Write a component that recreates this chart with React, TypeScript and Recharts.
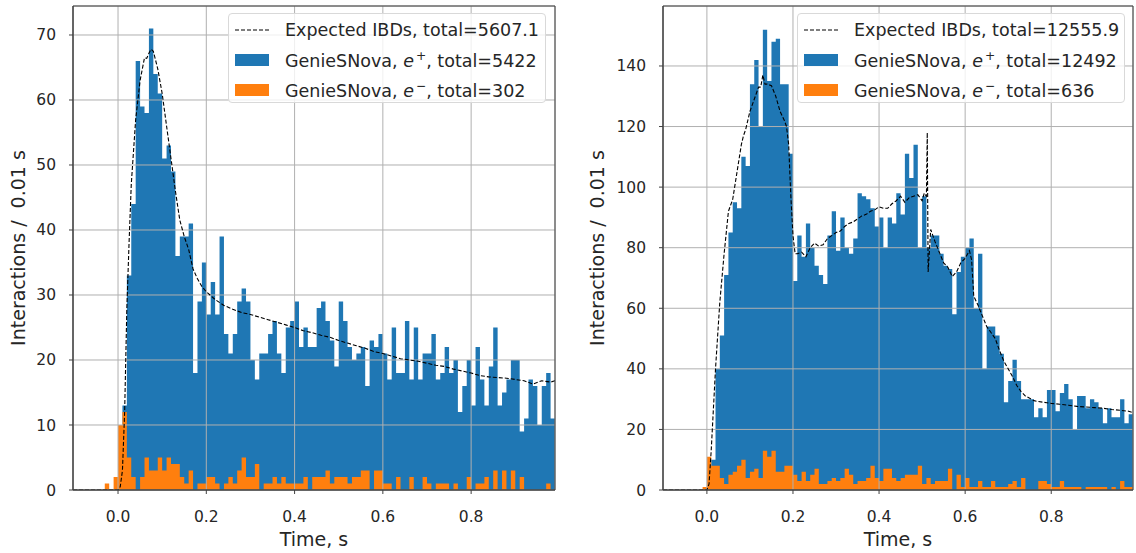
import React from "react";
import {
  ComposedChart,
  Area,
  Line,
  XAxis,
  YAxis,
  CartesianGrid,
  Legend,
  ReferenceArea,
} from "recharts";

// histogram bins: 0.01 s wide, first bin starts at -0.10, last one ends at 0.99
const BIN_START = -0.1;
const BIN_WIDTH = 0.01;
const BIN_END = 0.99;
const X_MIN = -0.102;
const X_MAX = 0.99;

const xTicks = [0, 0.2, 0.4, 0.6, 0.8];
const leftYTicks = [0, 10, 20, 30, 40, 50, 60, 70];
const rightYTicks = [0, 20, 40, 60, 80, 100, 120, 140];

// left panel, counts per bin (-0.10 ... 0.98)
const leftPositrons = [
  0, 0, 0, 0, 0, 0, 0, 0, 0, 0,
  1, 13, 33, 44, 66, 59, 58, 71, 64, 61,
  51, 53, 49, 36, 39, 39, 41, 18, 29, 35,
  27, 32, 27, 39, 24, 21, 24, 29, 31, 29,
  20, 17, 21, 21, 24, 26, 21, 18, 25, 26,
  29, 22, 25, 22, 22, 28, 29, 26, 23, 19,
  29, 26, 22, 20, 21, 22, 16, 23, 22, 24,
  21, 17, 25, 18, 18, 26, 17, 25, 17, 21,
  21, 24, 17, 18, 22, 18, 20, 12, 16, 20,
  13, 22, 17, 13, 19, 25, 13, 15, 17, 20,
  20, 9, 11, 17, 16, 10, 16, 18, 11,
];
const leftElectrons = [
  0, 0, 0, 0, 0, 0, 0, 1, 0, 2,
  10, 12, 5, 2, 0, 2, 5, 3, 3, 5,
  3, 5, 4, 4, 2, 1, 3, 0, 1, 1,
  2, 2, 1, 0, 1, 2, 1, 3, 5, 2,
  2, 4, 0, 1, 1, 2, 1, 2, 1, 1,
  1, 1, 2, 0, 2, 2, 2, 3, 1, 2,
  2, 2, 1, 2, 2, 3, 3, 0, 3, 3,
  1, 1, 0, 2, 0, 0, 2, 0, 0, 2,
  1, 0, 1, 1, 1, 0, 1, 0, 0, 2,
  0, 1, 1, 2, 0, 3, 0, 3, 0, 3,
  0, 2, 0, 0, 0, 0, 0, 1, 0,
];
const leftExpTime = [
  -0.102, 0, 0.005, 0.01, 0.015, 0.02, 0.025, 0.03,
  0.04, 0.05, 0.06, 0.065, 0.07, 0.075, 0.08, 0.09,
  0.1, 0.11, 0.12, 0.13, 0.14, 0.15, 0.16, 0.17, 0.18, 0.19, 0.2,
  0.22, 0.24, 0.26, 0.28, 0.3, 0.32, 0.34, 0.36, 0.38, 0.4,
  0.42, 0.44, 0.46, 0.48, 0.5, 0.52, 0.54, 0.56, 0.58, 0.6,
  0.62, 0.64, 0.66, 0.68, 0.7, 0.72, 0.74, 0.76, 0.78, 0.8,
  0.82, 0.84, 0.86, 0.88, 0.9, 0.92, 0.94, 0.96, 0.98, 0.99,
];
const leftExpValue = [
  0, 0, 0.5, 3, 12, 28, 38, 47,
  57, 63, 66.5, 66.4, 67.2, 67.8, 67.5, 64.8,
  61, 56, 51, 46, 41.5, 39, 37, 34, 32.5, 31.3, 30.5,
  29.3, 28.4, 27.8, 27.3, 27, 26.6, 26.2, 25.8, 25.4, 25,
  24.5, 24.2, 23.8, 23.5, 23, 22.6, 22.2, 21.8, 21.3, 21,
  20.6, 20.2, 20, 19.8, 19.5, 19.2, 19, 18.6, 18.3, 18,
  17.6, 17.4, 17.3, 17.2, 17, 16.8, 16.3, 16.8, 16.6, 16.8,
];

// right panel
const rightPositrons = [
  0, 0, 0, 0, 0, 0, 0, 0, 0, 0,
  5, 10, 40, 51, 71, 85, 95, 93, 110, 107,
  134, 142, 120, 152, 135, 148, 149, 134, 134, 111,
  69, 84, 77, 88, 80, 74, 71, 68, 84, 92,
  79, 90, 80, 78, 83, 98, 97, 96, 93, 87,
  90, 80, 90, 88, 98, 91, 111, 103, 114, 80,
  97, 80, 84, 84, 78, 74, 73, 58, 72, 77,
  80, 83, 60, 78, 40, 54, 54, 51, 45, 29,
  36, 43, 36, 30, 30, 30, 24, 27, 24, 33,
  33, 26, 32, 35, 30, 20, 31, 31, 27, 30,
  29, 27, 22, 27, 24, 24, 30, 22, 25,
];
const rightElectrons = [
  0, 0, 0, 0, 0, 0, 0, 0, 0, 1,
  11, 8, 8, 4, 2, 5, 6, 8, 10, 4,
  6, 7, 4, 13, 11, 13, 6, 6, 8, 8,
  5, 3, 6, 3, 5, 7, 2, 2, 3, 4,
  3, 4, 7, 5, 2, 3, 3, 4, 8, 4,
  3, 7, 7, 4, 3, 4, 5, 5, 5, 8,
  2, 4, 2, 3, 3, 3, 7, 0, 5, 1,
  4, 1, 1, 3, 1, 1, 3, 1, 1, 1,
  2, 3, 1, 4, 0, 0, 0, 3, 3, 2,
  1, 1, 3, 1, 1, 1, 1, 0, 1, 1,
  1, 1, 1, 0, 1, 0, 3, 1, 1,
];
const rightExpTime = [
  -0.102, 0, 0.005, 0.01, 0.02, 0.03, 0.04, 0.05, 0.055, 0.06,
  0.07, 0.08, 0.085, 0.09, 0.1, 0.11, 0.12, 0.125, 0.13, 0.135,
  0.14, 0.15, 0.16, 0.17, 0.18, 0.185, 0.19, 0.195, 0.2, 0.205,
  0.21, 0.22, 0.23, 0.24, 0.25, 0.26, 0.27, 0.28, 0.29, 0.3,
  0.31, 0.32, 0.33, 0.34, 0.35, 0.36, 0.37, 0.38, 0.39, 0.4,
  0.41, 0.42, 0.43, 0.44, 0.45, 0.46, 0.47, 0.48, 0.49, 0.5,
  0.505, 0.51, 0.512, 0.514, 0.52, 0.525, 0.53, 0.54, 0.55, 0.56,
  0.57, 0.58, 0.59, 0.6, 0.61, 0.615, 0.62, 0.63, 0.64, 0.65,
  0.66, 0.67, 0.68, 0.69, 0.7, 0.71, 0.72, 0.73, 0.74, 0.75,
  0.76, 0.77, 0.78, 0.79, 0.8, 0.82, 0.84, 0.86, 0.88, 0.9,
  0.92, 0.94, 0.96, 0.98, 0.99,
];
const rightExpValue = [
  0, 0, 2, 13, 40, 62, 78, 92, 94, 96,
  105, 114, 117, 119, 125, 129, 133, 133, 137, 134,
  134, 133.5, 130, 125, 122, 120, 114, 97, 84, 78,
  78, 78.5, 77, 80, 81.5, 80.5, 81, 83, 84, 85,
  85.5, 87, 88, 88.5, 89.5, 90.5, 91, 92, 92.5, 93.5,
  93, 93, 94.5, 95.5, 97, 95, 96.5, 97, 97.5, 95.5,
  98, 97, 118, 72, 86, 84, 82, 78.5, 75, 73.5,
  70.5, 72, 75, 76.5, 79, 76, 64, 61, 57.5, 54,
  52, 50, 46, 42.5, 40, 37.5, 34.5, 32.5, 31, 30.3,
  29.5, 29.2, 29, 28.8, 28.6, 28.3, 28, 27.6, 27.4, 27.2,
  27, 26.6, 26.3, 26, 25.5,
];

const BLUE = "#1f77b4";
const ORANGE = "#ff7f0e";
const FONT = "DejaVu Sans";
const TEXT = "#262626";
const SPINE = "#404040";

function histRows(counts: number[]) {
  const rows = counts.map((n, i) => ({
    t: Math.round((BIN_START + i * BIN_WIDTH) * 1000) / 1000,
    n,
  }));
  // closing edge so the last step is drawn full width
  rows.push({ t: BIN_END, n: counts[counts.length - 1] });
  return rows;
}

type LegendRow = { kind: "line" | "patch"; color: string; label: React.ReactNode };

function LegendBox(props: { rows: LegendRow[]; width: number }) {
  return (
    <div
      style={{
        boxSizing: "border-box",
        width: props.width,
        height: 90,
        background: "rgba(255,255,255,0.8)",
        border: "1px solid #d9d9d9",
        borderRadius: 4,
        position: "relative",
        fontFamily: FONT,
        fontSize: 17.5,
        color: TEXT,
      }}
    >
      {props.rows.map((r, i) => (
        <div
          key={i}
          style={{
            position: "absolute",
            left: 6,
            top: 0.5 + i * 30,
            height: 30,
            display: "flex",
            alignItems: "center",
            whiteSpace: "nowrap",
          }}
        >
          {r.kind === "line" ? (
            <svg width={34} height={12}>
              <line x1={0} y1={6} x2={34} y2={6} stroke="#000" strokeWidth={1.1} strokeDasharray="4 2" />
            </svg>
          ) : (
            <div style={{ width: 34, height: 12, background: r.color }} />
          )}
          <span style={{ marginLeft: 16 }}>{r.label}</span>
        </div>
      ))}
    </div>
  );
}

function legendRows(expTotal: string, posTotal: number, eleTotal: number): LegendRow[] {
  return [
    { kind: "line", color: "#000", label: `Expected IBDs, total=${expTotal}` },
    {
      kind: "patch",
      color: BLUE,
      label: (
        <>
          GenieSNova, <i>e</i>
          <sup style={{ fontSize: "0.7em", marginLeft: 2 }}>+</sup>, total={posTotal}
        </>
      ),
    },
    {
      kind: "patch",
      color: ORANGE,
      label: (
        <>
          GenieSNova, <i>e</i>
          <sup style={{ fontSize: "0.7em", marginLeft: 2 }}>−</sup>, total={eleTotal}
        </>
      ),
    },
  ];
}

type PanelProps = {
  width: number;
  yAxisWidth: number;
  rightMargin: number;
  yMax: number;
  yTicks: number[];
  positrons: number[];
  electrons: number[];
  expTime: number[];
  expValue: number[];
  rows: LegendRow[];
  legendLeft: number;
  legendWidth: number;
  yTitleX: number;
};

function Panel(props: PanelProps) {
  const blueRows = histRows(props.positrons);
  const orangeRows = histRows(props.electrons);
  const expRows = props.expTime.map((t, i) => ({ t, n: props.expValue[i] }));

  return (
    <ComposedChart
      width={props.width}
      height={553}
      margin={{ top: 6, right: props.rightMargin, bottom: 0, left: 0 }}
    >
      <XAxis
        dataKey="t"
        type="number"
        domain={[X_MIN, X_MAX]}
        allowDataOverflow
        ticks={xTicks}
        tickFormatter={(v: number) => v.toFixed(1)}
        height={63}
        tickSize={4}
        tickMargin={17}
        tick={{ fill: TEXT, fontSize: 15.5, fontFamily: FONT }}
        tickLine={{ stroke: SPINE }}
        axisLine={{ stroke: SPINE }}
        label={{
          content: (p: any) => {
            const vb = p.viewBox || {};
            return (
              <text
                x={vb.x + vb.width / 2}
                y={546}
                textAnchor="middle"
                fill={TEXT}
                fontSize={19}
                fontFamily={FONT}
              >
                Time, s
              </text>
            );
          },
        }}
      />
      <YAxis
        type="number"
        domain={[0, props.yMax]}
        allowDataOverflow
        ticks={props.yTicks}
        width={props.yAxisWidth}
        tickSize={4}
        tickMargin={13}
        tick={{ fill: TEXT, fontSize: 15.5, fontFamily: FONT }}
        tickLine={{ stroke: SPINE }}
        axisLine={{ stroke: SPINE }}
        label={{
          content: () => (
            <text
              x={props.yTitleX}
              y={248}
              transform={`rotate(-90 ${props.yTitleX} 248)`}
              textAnchor="middle"
              dominantBaseline="central"
              fill={TEXT}
              fontSize={19}
              fontFamily={FONT}
              style={{ whiteSpace: "pre" }}
            >
              {"Interactions /  0.01 s"}
            </text>
          ),
        }}
      />
      <Area
        data={blueRows}
        dataKey="n"
        name="positrons"
        type="stepAfter"
        fill={BLUE}
        fillOpacity={1}
        stroke="none"
        dot={false}
        activeDot={false}
        isAnimationActive={false}
      />
      <Area
        data={orangeRows}
        dataKey="n"
        name="electrons"
        type="stepAfter"
        fill={ORANGE}
        fillOpacity={1}
        stroke="none"
        dot={false}
        activeDot={false}
        isAnimationActive={false}
      />
      <CartesianGrid stroke="#b0b0b0" strokeWidth={1} zIndex={150} />
      <Line
        data={expRows}
        dataKey="n"
        name="expected"
        type="linear"
        stroke="#000"
        strokeWidth={1.1}
        strokeDasharray="4 2"
        dot={false}
        activeDot={false}
        isAnimationActive={false}
      />
      <ReferenceArea
        x1={X_MIN}
        x2={X_MAX}
        y1={0}
        y2={props.yMax}
        fill="none"
        stroke={SPINE}
        strokeWidth={1}
        ifOverflow="visible"
        zIndex={600}
      />
      <Legend
        layout="vertical"
        align="center"
        verticalAlign="middle"
        wrapperStyle={{ left: props.legendLeft, top: 13, width: props.legendWidth, height: 90 }}
        content={() => <LegendBox rows={props.rows} width={props.legendWidth} />}
      />
    </ComposedChart>
  );
}

export default function App() {
  return (
    <div style={{ position: "absolute", left: 0, top: 0, width: 1136, height: 553, background: "#fff" }}>
      <div style={{ position: "absolute", left: 0, top: 0 }}>
        <Panel
          width={560}
          yAxisWidth={73}
          rightMargin={5}
          yMax={74.46}
          yTicks={leftYTicks}
          positrons={leftPositrons}
          electrons={leftElectrons}
          expTime={leftExpTime}
          expValue={leftExpValue}
          rows={legendRows("5607.1", 5422, 302)}
          legendLeft={228}
          legendWidth={318}
          yTitleX={18}
        />
      </div>
      <div style={{ position: "absolute", left: 568, top: 0 }}>
        <Panel
          width={568}
          yAxisWidth={95}
          rightMargin={3}
          yMax={159.8}
          yTicks={rightYTicks}
          positrons={rightPositrons}
          electrons={rightElectrons}
          expTime={rightExpTime}
          expValue={rightExpValue}
          rows={legendRows("12555.9", 12492, 636)}
          legendLeft={229}
          legendWidth={328}
          yTitleX={29}
        />
      </div>
    </div>
  );
}
